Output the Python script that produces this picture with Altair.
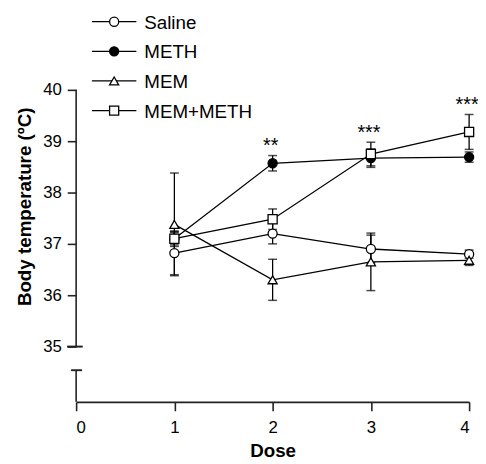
import altair as alt
import pandas as pd

# ---- data ----
doses = [1, 2, 3, 4]
series_names = ["Saline", "METH", "MEM", "MEM+METH"]
saline_mean = [36.82, 37.20, 36.90, 36.80]
saline_err = [0.42, 0.20, 0.27, 0.08]
meth_mean = [37.10, 38.57, 38.67, 38.69]
meth_err = [0.15, 0.15, 0.18, 0.10]
mem_mean = [37.38, 36.30, 36.65, 36.68]
mem_err = [1.00, 0.40, 0.56, 0.10]
memmeth_mean = [37.10, 37.48, 38.75, 39.18]
memmeth_err = [0.12, 0.20, 0.23, 0.34]

x_ticks = [0, 1, 2, 3, 4]
y_ticks = [35, 36, 37, 38, 39, 40]
star_doses = [2, 3, 4]
star_labels = ["**", "***", "***"]

shapes = ["circle", "circle", "triangle-up", "square"]
fills = ["white", "black", "white", "white"]
sizes = [85, 85, 110, 100]

FONT = "Liberation Sans"
AX = "#222222"

rows = []
for name, means, errs in zip(series_names,
                             [saline_mean, meth_mean, mem_mean, memmeth_mean],
                             [saline_err, meth_err, mem_err, memmeth_err]):
    for d, m, e in zip(doses, means, errs):
        rows.append(dict(series=name, idx=series_names.index(name),
                         dose=d, mean=m, lo=m - e, hi=m + e))
df = pd.DataFrame(rows)

# annotation positions derived from the data (just above highest error bar)
star_rows = []
for d, lab in zip(star_doses, star_labels):
    top = df.loc[df.dose == d, "hi"].max()
    star_rows.append(dict(dose=d, label=lab, y=top + 0.22))
df_star = pd.DataFrame(star_rows)

# layout of the hand-drawn legend (pixels within plot area)
df_leg = pd.DataFrame({
    "series": series_names,
    "py": [11 + 30 * i for i in range(len(series_names))],
})
df_leg["x1"] = 16
df_leg["x2"] = 61
df_leg["xm"] = 38.5
df_leg["xt"] = 69

Y_MIN, Y_MAX = 33.923, 41.538
BREAK_TOP = 34.538
xs = alt.Scale(domain=[0, 4], nice=False, zero=False)
ys = alt.Scale(domain=[Y_MIN, Y_MAX], nice=False, zero=False)
shape_s = alt.Scale(domain=series_names, range=shapes)
fill_s = alt.Scale(domain=series_names, range=fills)
size_s = alt.Scale(domain=series_names, range=sizes)

base = alt.Chart(df)

lines = base.mark_line(color="black", strokeWidth=1.3).encode(
    x=alt.X("dose:Q", scale=xs,
            axis=alt.Axis(values=x_ticks, format="d", title="Dose", grid=False,
                          tickSize=9, tickWidth=1.6, tickColor=AX,
                          domainColor=AX, domainWidth=1.6,
                          labelFontSize=17, labelFont=FONT, labelColor="black",
                          labelPadding=9, titleFont=FONT, titleFontSize=19,
                          titleFontWeight="bold", titleColor="black",
                          titlePadding=6)),
    y=alt.Y("mean:Q", scale=ys,
            axis=alt.Axis(values=y_ticks, format="d",
                          title="Body temperature (ºC)", grid=False,
                          domain=False, tickSize=9, tickWidth=1.6,
                          tickColor=AX, labelFontSize=17, labelFont=FONT,
                          labelColor="black", labelPadding=6,
                          titleFont=FONT, titleFontSize=19,
                          titleFontWeight="bold", titleColor="black",
                          titlePadding=8)),
    detail="series:N",
    order="dose:Q",
)

err_v = base.mark_rule(color="black", strokeWidth=1.3).encode(
    x=alt.X("dose:Q", scale=xs),
    y=alt.Y("lo:Q", scale=ys),
    y2="hi:Q",
)
cap_lo = base.mark_tick(color="black", orient="horizontal", size=9,
                        thickness=1.5).encode(
    x=alt.X("dose:Q", scale=xs),
    y=alt.Y("lo:Q", scale=ys),
)
cap_hi = base.mark_tick(color="black", orient="horizontal", size=9,
                        thickness=1.5).encode(
    x=alt.X("dose:Q", scale=xs),
    y=alt.Y("hi:Q", scale=ys),
)

points = base.mark_point(filled=True, stroke="black", strokeWidth=1.3,
                         opacity=1).encode(
    x=alt.X("dose:Q", scale=xs),
    y=alt.Y("mean:Q", scale=ys),
    shape=alt.Shape("series:N", scale=shape_s, legend=None),
    fill=alt.Fill("series:N", scale=fill_s, legend=None),
    size=alt.Size("series:N", scale=size_s, legend=None),
    order=alt.Order("idx:Q"),
)

stars = alt.Chart(df_star).mark_text(font=FONT, fontSize=20, color="black",
                                     baseline="middle", dy=2, dx=-2).encode(
    x=alt.X("dose:Q", scale=xs),
    y=alt.Y("y:Q", scale=ys),
    text="label:N",
)

# broken y axis
df_axis = pd.DataFrame({"y1": [35, Y_MIN], "y2": [40, BREAK_TOP]})
axis_line = alt.Chart(df_axis).mark_rule(color=AX, strokeWidth=1.6).encode(
    x=alt.value(0),
    y=alt.Y("y1:Q", scale=ys),
    y2="y2:Q",
)
cap35 = alt.Chart(df_axis).mark_rule(color=AX, strokeWidth=1.6).encode(
    x=alt.value(-9), x2=alt.value(6.5), y=alt.datum(35),
)
capbreak = alt.Chart(df_axis).mark_rule(color=AX, strokeWidth=1.6).encode(
    x=alt.value(-5), x2=alt.value(6), y=alt.datum(BREAK_TOP),
)

leg_base = alt.Chart(df_leg)
leg_line = leg_base.mark_rule(color="black", strokeWidth=1.3).encode(
    x=alt.X("x1:Q", scale=None), x2="x2:Q",
    y=alt.Y("py:Q", scale=None),
)
leg_pt = leg_base.mark_point(filled=True, stroke="black", strokeWidth=1.3,
                             opacity=1).encode(
    x=alt.X("xm:Q", scale=None),
    y=alt.Y("py:Q", scale=None),
    shape=alt.Shape("series:N", scale=shape_s, legend=None),
    fill=alt.Fill("series:N", scale=fill_s, legend=None),
    size=alt.Size("series:N", scale=size_s, legend=None),
)
leg_txt = leg_base.mark_text(font=FONT, fontSize=19, color="black",
                             align="left", baseline="middle", dy=1).encode(
    x=alt.X("xt:Q", scale=None),
    y=alt.Y("py:Q", scale=None),
    text="series:N",
)

chart = alt.layer(
    lines, err_v, cap_lo, cap_hi, points, stars,
    axis_line, cap35, capbreak, leg_line, leg_pt, leg_txt,
).properties(
    width=398, height=396,
    autosize=alt.AutoSizeParams(type="none"),
    padding={"left": 69, "top": 0, "right": 9, "bottom": 58},
    background="white",
).configure_view(stroke=None)

chart.save("out.html", embed_options={"renderer": "svg", "actions": False})
